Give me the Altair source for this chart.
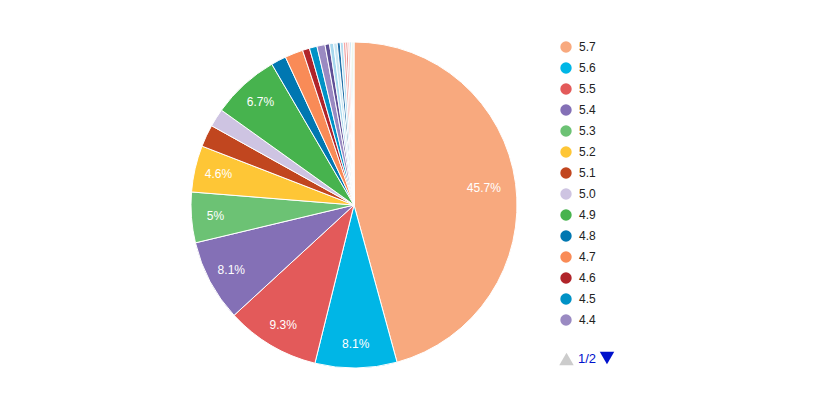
import altair as alt
import pandas as pd

categories = ["5.7", "5.6", "5.5", "5.4", "5.3", "5.2", "5.1", "5.0", "4.9", "4.8", "4.7", "4.6", "4.5", "4.4",
              "4.3", "4.2", "4.1", "4.0", "3.9", "3.8", "3.7", "3.6", "3.5", "3.4", "3.3"]
percents = [45.7, 8.1, 9.3, 8.1, 5.0, 4.6, 2.2, 1.8, 6.7, 1.5, 1.8, 0.7, 0.75, 0.8,
            0.45, 0.4, 0.35, 0.3, 0.3, 0.25, 0.2, 0.2, 0.15, 0.15, 0.1]
colors = ["#F8A97E", "#00B6E6", "#E35A5A", "#8470B6", "#6CC274", "#FEC636", "#C1461F", "#CEC4E2",
          "#47B34E", "#0077B1", "#F98B57", "#B0242A", "#0092C6", "#9A8AC2",
          "#5E4F96", "#A6D8EE", "#C9E6F2", "#1F6FA8", "#B3DDF0", "#F4A6A6", "#E8837E", "#F7C8C8",
          "#A9D6EC", "#BFE3B8", "#CFE8F3"]
legend_page = categories[:14]
page_text = "1/2"

df = pd.DataFrame({"cat": categories, "pct": percents, "idx": list(range(len(categories)))})
leg = pd.DataFrame({"cat": legend_page, "i": list(range(len(legend_page)))})

CX, CY, R = 346, 197, 163

color_scale = alt.Scale(domain=categories, range=colors)

base = alt.Chart(df).encode(
    theta=alt.Theta("pct:Q", stack=True),
    order=alt.Order("idx:Q"),
)

pie = base.mark_arc(radius=R, stroke="white", strokeWidth=1).encode(
    color=alt.Color("cat:N", scale=color_scale, legend=None),
    x=alt.value(CX), y=alt.value(CY),
)

labels_small = base.transform_calculate(
    lbl="datum.pct >= 4 && datum.pct < 40 ? format(datum.pct, '.1~f') + '%' : ''",
).mark_text(
    radius=139, color="white", fontSize=12, font="Liberation Sans", align="center", baseline="middle"
).encode(text="lbl:N", x=alt.value(CX), y=alt.value(CY))

labels_big = base.transform_calculate(
    lbl="datum.pct >= 40 ? format(datum.pct, '.1~f') + '%' : ''",
).mark_text(
    radius=131, color="white", fontSize=12, font="Liberation Sans", align="center", baseline="middle"
).encode(text="lbl:N", x=alt.value(CX), y=alt.value(CY))

leg_base = alt.Chart(leg).transform_calculate(yy="39 + 21 * datum.i")
leg_dots = leg_base.mark_circle(size=130, opacity=1).encode(
    x=alt.value(558),
    y=alt.Y("yy:Q", scale=None),
    color=alt.Color("cat:N", scale=color_scale, legend=None),
)
leg_text = leg_base.mark_text(align="left", baseline="middle", fontSize=12, font="Liberation Sans",
                              color="#222222").encode(
    x=alt.value(571),
    y=alt.Y("yy:Q", scale=None),
    text="cat:N",
)

pg = pd.DataFrame({"t": [page_text]})
up = alt.Chart(pg).mark_point(shape="triangle-up", filled=True, size=210, color="#CCCCCC", opacity=1).encode(
    x=alt.value(558.5), y=alt.value(351))
pgtxt = alt.Chart(pg).mark_text(align="left", baseline="middle", fontSize=13, font="Liberation Sans",
                                color="#0011CC").encode(x=alt.value(570), y=alt.value(351), text="t:N")
down = alt.Chart(pg).mark_point(shape="triangle-down", filled=True, size=210, color="#0011CC", opacity=1).encode(
    x=alt.value(599), y=alt.value(350))

chart = alt.layer(pie, labels_small, labels_big, leg_dots, leg_text, up, pgtxt, down).properties(
    width=821, height=401, padding=0, autosize=alt.AutoSizeParams(type="none")
).configure_view(stroke=None)

chart.save("out.html", embed_options={"renderer": "svg", "actions": False})
